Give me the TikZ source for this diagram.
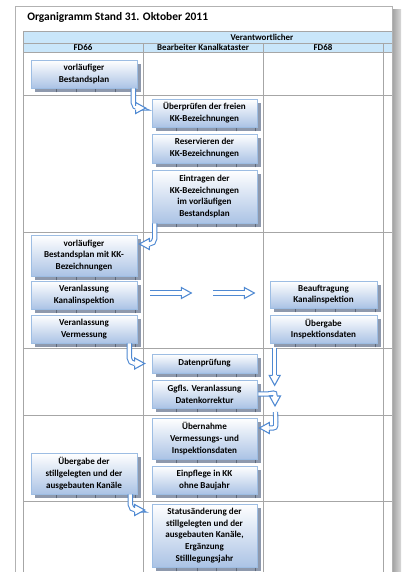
\documentclass[tikz,border=0pt]{standalone}
\usepackage{fontspec}
\setmainfont{Carlito}
\usetikzlibrary{calc,shadows}
\definecolor{hdrblue}{HTML}{C9E6FA}
\definecolor{gridc}{HTML}{A6A6A6}
\definecolor{boxbot}{HTML}{ABC3E5}
\definecolor{boxline}{HTML}{9DBDE3}
\definecolor{shadowc}{HTML}{8E99AD}
\definecolor{tickc}{HTML}{5E6878}
\definecolor{arrc}{HTML}{4F89D2}
\begin{document}
\begin{tikzpicture}[x=0.75pt,y=-0.75pt,
  gridline/.style={draw=gridc, line width=0.6pt},
  box/.style={draw=boxline, line width=0.5pt, top color=white, bottom color=boxbot,
    align=center, font=\fontsize{6.8}{8.9}\selectfont\bfseries, inner sep=0pt,
    drop shadow={shadow xshift=3pt, shadow yshift=-3pt, fill=shadowc, opacity=1}},
  bx/.style 2 args={minimum width=#1*0.75pt, minimum height=#2*0.75pt},
  hdr/.style={font=\fontsize{6.7}{7}\selectfont\bfseries, inner sep=0pt},
  hshaft/.style={draw=arrc, line width=0.8pt, double=white, double distance=2.4pt},
  tickline/.style={draw=tickc, line width=0.5pt},
  pics/hhead/.style={code={
    \fill[white] (0,0) -- (-10,-5.5) -- (-10,5.5) -- cycle;
    \draw[arrc, line width=0.8pt, line join=miter] (-10,-2.1) -- (-10,-5.5) -- (0,0) -- (-10,5.5) -- (-10,2.1);
  }}
]
\useasboundingbox (0,0) rectangle (401,572);
% page
\fill[white] (0,0) rectangle (401,572);
\shade[left color=gray!75, right color=gray!30] (392,9) rectangle (401,572);
\draw[gray!60, line width=0.6pt] (15,572) -- (15,6) -- (392,6) -- (392,572);
\node[anchor=west, font=\fontsize{8.6}{10}\selectfont\bfseries, inner sep=0pt] (title) at (27,17) {Organigramm Stand 31. Oktober 2011};
% table
\fill[hdrblue] (23,31) rectangle (392,52);
\foreach \yy in {31,43,52,95,232,348,415,501} \draw[gridline] (23,\yy) -- (392,\yy);
\draw[gridline] (23,31) -- (23,572);
\foreach \xx in {143,263,383} \draw[gridline] (\xx,43) -- (\xx,572);
\node[hdr] (hv) at (262,37.5) {Verantwortlicher};
\node[hdr] (h1) at (83,47.8) {FD66};
\node[hdr] (h2) at (203,47.8) {Bearbeiter Kanalkataster};
\node[hdr] (h3) at (323,47.8) {FD68};
% boxes
\node[box, bx={106}{28}] (b1) at (84,74) {vorläufiger\\Bestandsplan};
\node[box, bx={105}{28}] (b2) at (204.5,113) {Überprüfen der freien\\KK-Bezeichnungen};
\node[box, bx={105}{29}] (b3) at (204.5,148.5) {Reservieren der\\KK-Bezeichnungen};
\node[box, bx={105}{53}] (b4) at (204.5,196.5) {Eintragen der\\KK-Bezeichnungen\\im vorläufigen\\Bestandsplan};
\node[box, bx={106}{41}] (b5) at (84,255.5) {vorläufiger\\Bestandsplan mit KK-\\Bezeichnungen};
\node[box, bx={106}{28}] (b6) at (84,295) {Veranlassung\\Kanalinspektion};
\node[box, bx={106}{28}] (b7) at (84,329) {Veranlassung\\Vermessung};
\node[box, bx={107}{27}] (b8) at (323.5,294.5) {Beauftragung\\Kanalinspektion};
\node[box, bx={107}{28}] (b9) at (323.5,329) {Übergabe\\Inspektionsdaten};
\node[box, bx={105}{19}] (b10) at (204.5,363.5) {Datenprüfung};
\node[box, bx={105}{28}] (b11) at (204.5,394) {Ggfls. Veranlassung\\Datenkorrektur};
\node[box, bx={105}{41}] (b12) at (204.5,438.5) {Übernahme\\Vermessungs- und\\Inspektionsdaten};
\node[box, bx={105}{28}] (b13) at (204.5,480) {Einpflege in KK\\ohne Baujahr};
\node[box, bx={106}{41}] (b14) at (84,473.5) {Übergabe der\\stillgelegten und der\\ausgebauten Kanäle};
\node[box, bx={105}{63}] (b15) at (204.5,535.5) {Statusänderung der\\stillgelegten und der\\ausgebauten Kanäle,\\Ergänzung\\Stilllegungsjahr};
% shadow ticks
\foreach \b in {b1,b2,b3,b4,b5,b6,b7,b8,b9,b10,b11,b12,b13,b14,b15}{
  \foreach \f in {0.2,0.39,0.57,0.76,0.94}
    \draw[tickline] ($(\b.south west)!\f!(\b.south east)+(4,4)$) -- ++(0,-3);
}
% curved hollow arrows
\coordinate (a1s) at ($(b1.south east)+(-4,0)$);
\coordinate (a1t) at ($(b2.west)+(-6,-5)$);
\draw[hshaft, rounded corners=4pt] (a1s) |- ($(a1t)+(-10,0)$);
\pic at (a1t) {hhead};
\coordinate (a2s) at ($(b4.south west)+(3,0)$);
\coordinate (a2t) at ($(b5.east)+(2,-11.5)$);
\draw[hshaft, rounded corners=4pt] (a2s) |- ($(a2t)+(10,0)$);
\pic[rotate=180] at (a2t) {hhead};
\coordinate (a3s) at ($(b7.south east)+(-8,0)$);
\coordinate (a3t) at ($(b10.west)+(-7,0)$);
\draw[hshaft, rounded corners=4pt] (a3s) |- ($(a3t)+(-10,0)$);
\pic at (a3t) {hhead};
\coordinate (a4s) at ($(b14.south east)+(-7,0)$);
\coordinate (a4t) at ($(b15.west)+(-7,-25.5)$);
\draw[hshaft, rounded corners=4pt] (a4s) |- ($(a4t)+(-10,0)$);
\pic at (a4t) {hhead};
\coordinate (a5s) at ($(b11.east)+(1,0)$);
\coordinate (a5t) at (275,406);
\draw[hshaft] (a5s) -- ++(8,0) .. controls +(7,0) and +(0,-5) .. ($(a5t)+(0,-10)$);
\pic[rotate=-90] at (a5t) {hhead};
\coordinate (a6s) at (275.5,412);
\coordinate (a6t) at ($(b12.east)+(2,-10.5)$);
\draw[hshaft] (a6s) -- ($(a6t)+(16.5,-6)$) .. controls ($(a6t)+(16.5,0)$) .. ($(a6t)+(10,0)$);
\pic[rotate=180] at (a6t) {hhead};
% straight hollow arrows
\coordinate (d1s) at ($(b9.south west)+(5,5)$);
\coordinate (d1t) at ($(b9.south west)+(5,42)$);
\draw[hshaft] (d1s) -- ($(d1t)+(0,-10)$);
\pic[rotate=-90] at (d1t) {hhead};
\coordinate (r1s) at ($(b6.east)+(13,-2)$);
\coordinate (r1t) at ($(b6.east)+(54,-2)$);
\draw[hshaft] (r1s) -- ($(r1t)+(-10,0)$);
\pic at (r1t) {hhead};
\coordinate (r2s) at ($(b6.east)+(76,-2)$);
\coordinate (r2t) at ($(b6.east)+(117,-2)$);
\draw[hshaft] (r2s) -- ($(r2t)+(-10,0)$);
\pic at (r2t) {hhead};
\end{tikzpicture}
\end{document}
